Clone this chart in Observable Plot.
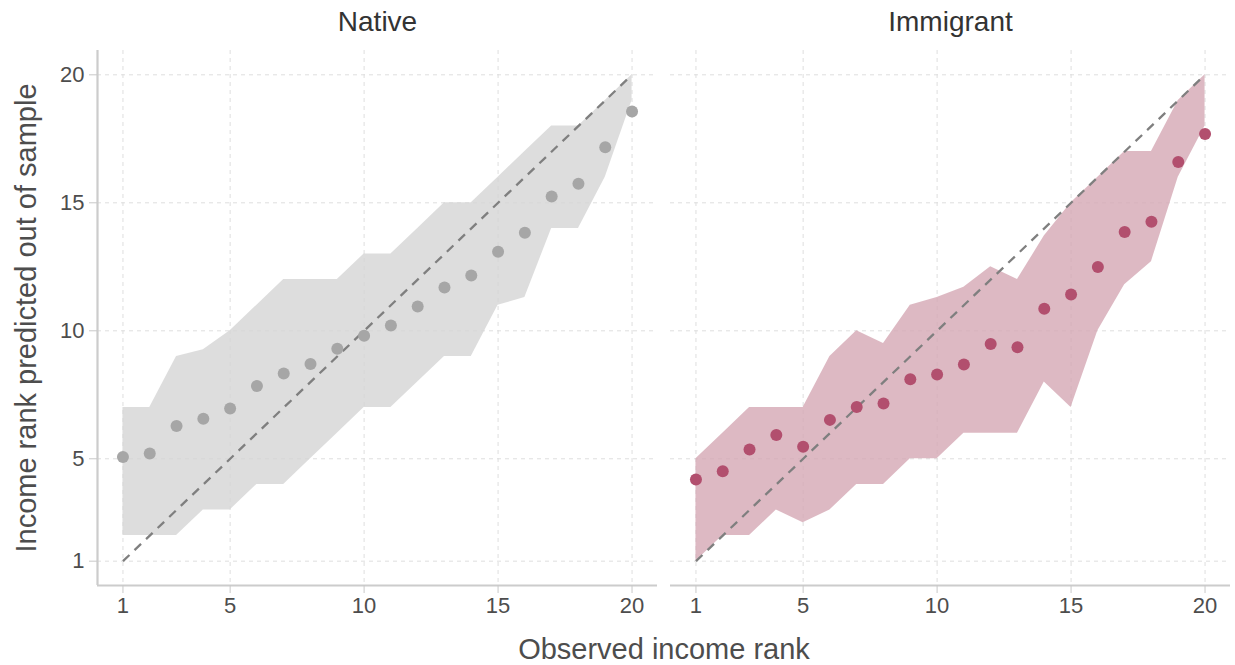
<!DOCTYPE html>
<html><head><meta charset="utf-8">
<script src="https://cdn.jsdelivr.net/npm/d3@7"></script>
<script src="https://cdn.jsdelivr.net/npm/@observablehq/plot@0.6"></script>
<style>
body{margin:0;background:#fff;}
svg{display:block}
g[aria-label="x-axis label"], g[aria-label="y-axis label"]{font-size:29px;}
</style>
</head><body><div id="chart"></div>
<script>
const groups = ["Native", "Immigrant"];
const ranks = [1,2,3,4,5,6,7,8,9,10,11,12,13,14,15,16,17,18,19,20];
const tickValues = [1,5,10,15,20];

const nativePred = [5.07,5.21,6.28,6.56,6.96,7.84,8.33,8.70,9.30,9.81,10.21,10.95,11.69,12.16,13.09,13.83,15.25,15.74,17.17,18.57];
const nativeLow  = [2,2,2,3,3,4,4,5,6,7,7,8,9,9,11,11.3,14,14,16,19];
const nativeHigh = [7,7,9,9.26,10,11,12,12,12,13,13,14,15,15,16,17,18,18,19,20];

const immPred = [4.19,4.51,5.36,5.93,5.47,6.52,7.02,7.16,8.11,8.29,8.68,9.48,9.36,10.86,11.42,12.49,13.86,14.26,16.59,17.69];
const immLow  = [1,2,2,3,2.5,3,4,4,5,5,6,6,6,8,7,10,11.8,12.7,16,18];
const immHigh = [5,6,7,7,7,9,10,9.5,11,11.3,11.7,12.5,12,13.7,15,16,17,17,19,20];

const nativeRows = ranks.map((r, i) => ({group: "Native", rank: r, pred: nativePred[i], low: nativeLow[i], high: nativeHigh[i]}));
const immRows = ranks.map((r, i) => ({group: "Immigrant", rank: r, pred: immPred[i], low: immLow[i], high: immHigh[i]}));
const diag = groups.map(g => ({group: g, x1: 1, y1: 1, x2: 20, y2: 20}));

const plot = Plot.plot({
  width: 1235, height: 665,
  marginTop: 50, marginBottom: 80, marginLeft: 96, marginRight: 5,
  style: {fontFamily: "'Liberation Sans', Arial, sans-serif", background: "#fff", overflow: "visible"},
  fx: {domain: groups, padding: 0.023},
  x: {domain: [0.05, 20.95]},
  y: {domain: [0.05, 20.95]},
  marks: [
    Plot.gridX({ticks: tickValues, stroke: "#dedede", strokeOpacity: 1, strokeWidth: 1, strokeDasharray: "4,4"}),
    Plot.gridY({ticks: tickValues, stroke: "#dedede", strokeOpacity: 1, strokeWidth: 1, strokeDasharray: "4,4"}),
    Plot.areaY(nativeRows, {x: "rank", y1: "low", y2: "high", fx: "group", fill: "#d5d5d5", fillOpacity: 0.8}),
    Plot.areaY(immRows, {x: "rank", y1: "low", y2: "high", fx: "group", fill: "#d4a8b4", fillOpacity: 0.8}),
    Plot.link(diag, {x1: "x1", y1: "y1", x2: "x2", y2: "y2", fx: "group", stroke: "#7f7f7f", strokeWidth: 2.3, strokeDasharray: "9,7"}),
    Plot.dot(nativeRows, {x: "rank", y: "pred", fx: "group", r: 6, fill: "#a6a6a6", stroke: null}),
    Plot.dot(immRows, {x: "rank", y: "pred", fx: "group", r: 6, fill: "#b24f6e", stroke: null}),
    Plot.ruleY([0.05], {stroke: "#cccccc", strokeWidth: 2.2}),
    Plot.ruleX([{group: "Native", x: 0.05}], {x: "x", fx: "group", stroke: "#cccccc", strokeWidth: 2.2}),
    Plot.axisX({ticks: tickValues, tickSize: 8, tickPadding: 4, fontSize: 22, stroke: "#c8c8c8", fill: "#4d4d4d",
      label: "Observed income rank", labelAnchor: "center", labelOffset: 73, labelArrow: "none"}),
    Plot.axisY({ticks: tickValues, tickSize: 8, tickPadding: 5, fontSize: 22, stroke: "#c8c8c8", fill: "#4d4d4d",
      label: "Income rank predicted out of sample", labelAnchor: "center", labelOffset: 82, labelArrow: "none"}),
    Plot.axisFx({anchor: "top", label: null, tickSize: 0, tickPadding: 20, fontSize: 28, fill: "#333333"})
  ]
});
document.getElementById("chart").appendChild(plot);
</script>
</body></html>
